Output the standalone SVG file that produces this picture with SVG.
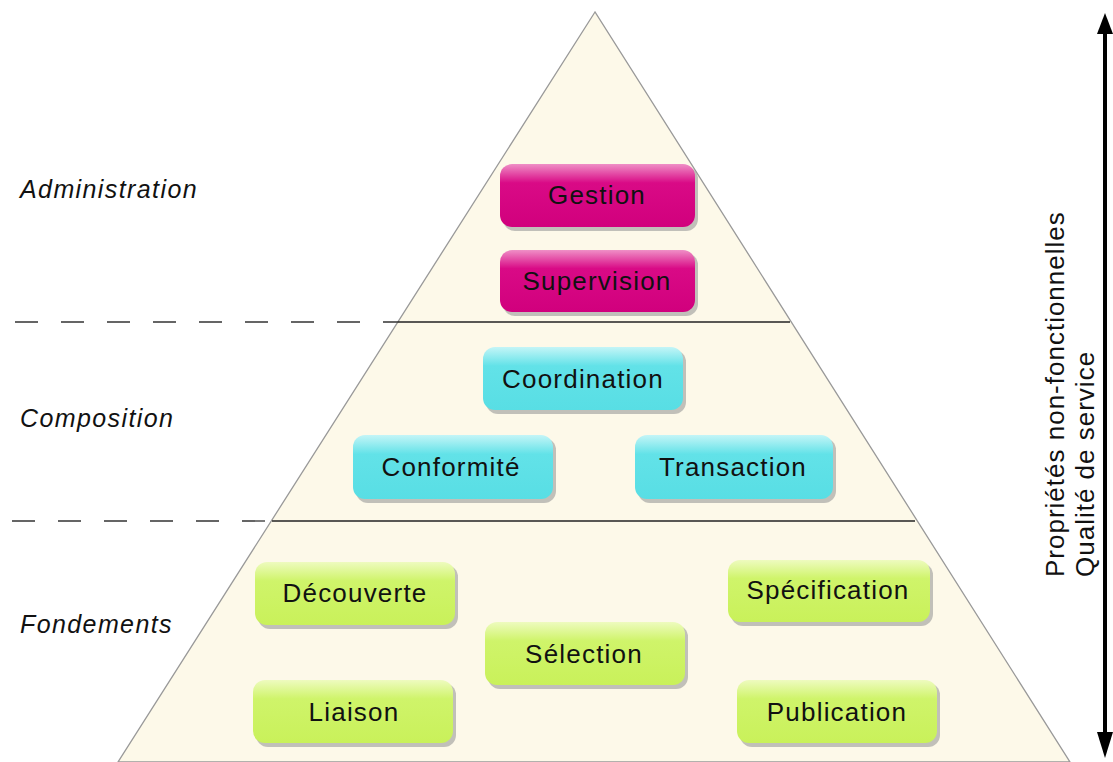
<svg xmlns="http://www.w3.org/2000/svg" width="1113" height="762" viewBox="0 0 1113 762">
<style>
.lbl{font-family:"Liberation Sans",Arial,sans-serif;font-size:26px;letter-spacing:1.2px;fill:#111;text-anchor:middle}
.lay{font-family:"Liberation Sans",Arial,sans-serif;font-size:25px;letter-spacing:1.4px;font-style:italic;fill:#111}
.side{font-family:"Liberation Sans",Arial,sans-serif;font-size:26px;letter-spacing:1px;fill:#111}
.shadow{fill:#999;opacity:0.6}
.dash{stroke:#333;stroke-width:1.3;stroke-dasharray:23 23;fill:none}
.sep{stroke:#222;stroke-width:1.3}
</style>
<defs>
<linearGradient id="gm" x1="0" y1="0" x2="0" y2="1">
<stop offset="0" stop-color="#ef8fc6"/><stop offset="0.3" stop-color="#d90a86"/><stop offset="1" stop-color="#d1007d"/>
</linearGradient>
<linearGradient id="gc" x1="0" y1="0" x2="0" y2="1">
<stop offset="0" stop-color="#c4f5f7"/><stop offset="0.3" stop-color="#62e2e8"/><stop offset="1" stop-color="#58dee4"/>
</linearGradient>
<linearGradient id="gg" x1="0" y1="0" x2="0" y2="1">
<stop offset="0" stop-color="#eefbbf"/><stop offset="0.3" stop-color="#cff46a"/><stop offset="1" stop-color="#c9f15a"/>
</linearGradient>
</defs>
<rect width="1113" height="762" fill="#fff"/>
<g id="pyramid">
<polygon points="595,12 118,762 1070,762" fill="#fdf9e9" stroke="#999" stroke-width="1.3"/>
</g>
<g id="connectors">
<line class="dash" x1="15" y1="322" x2="398" y2="322"/>
<line class="sep" x1="398" y1="322" x2="790" y2="322"/>
<line class="dash" x1="12" y1="521" x2="272" y2="521"/>
<line class="sep" x1="272" y1="521" x2="915" y2="521"/>
<line x1="1105" y1="30" x2="1105" y2="736" stroke="#000" stroke-width="4"/>
<polygon points="1105,13 1113,34 1097,34" fill="#000"/>
<polygon points="1105,758 1113,732 1097,732" fill="#000"/>
</g>
<g id="layer-labels">
<text class="lay" x="20" y="198">Administration</text>
<text class="lay" x="20" y="427">Composition</text>
<text class="lay" x="20" y="633">Fondements</text>
</g>
<g id="axis-label">
<text class="side" transform="translate(1064,577) rotate(-90)">Propriétés non-fonctionnelles</text>
<text class="side" transform="translate(1094,577) rotate(-90)">Qualité de service</text>
</g>
<g id="gestion">
<rect class="shadow" x="503" y="167" width="195" height="64" rx="12"/>
<rect x="500" y="164" width="195" height="63" rx="12" fill="url(#gm)"/>
<text class="lbl" x="597" y="204">Gestion</text>
</g>
<g id="supervision">
<rect class="shadow" x="503" y="253" width="195" height="63" rx="12"/>
<rect x="500" y="250" width="195" height="62" rx="12" fill="url(#gm)"/>
<text class="lbl" x="597" y="290">Supervision</text>
</g>
<g id="coordination">
<rect class="shadow" x="486" y="350" width="200" height="64" rx="12"/>
<rect x="483" y="347" width="200" height="63" rx="12" fill="url(#gc)"/>
<text class="lbl" x="583" y="388">Coordination</text>
</g>
<g id="conformite">
<rect class="shadow" x="356" y="438" width="200" height="65" rx="12"/>
<rect x="353" y="435" width="200" height="64" rx="12" fill="url(#gc)"/>
<text class="lbl" x="451" y="476">Conformité</text>
</g>
<g id="transaction">
<rect class="shadow" x="638" y="438" width="198" height="65" rx="12"/>
<rect x="635" y="435" width="198" height="64" rx="12" fill="url(#gc)"/>
<text class="lbl" x="733" y="476">Transaction</text>
</g>
<g id="decouverte">
<rect class="shadow" x="258" y="565" width="200" height="64" rx="12"/>
<rect x="255" y="562" width="200" height="63" rx="12" fill="url(#gg)"/>
<text class="lbl" x="355" y="602">Découverte</text>
</g>
<g id="specification">
<rect class="shadow" x="731" y="563" width="202" height="63" rx="12"/>
<rect x="728" y="560" width="202" height="62" rx="12" fill="url(#gg)"/>
<text class="lbl" x="828" y="599">Spécification</text>
</g>
<g id="selection">
<rect class="shadow" x="488" y="625" width="200" height="64" rx="12"/>
<rect x="485" y="622" width="200" height="63" rx="12" fill="url(#gg)"/>
<text class="lbl" x="584" y="663">Sélection</text>
</g>
<g id="liaison">
<rect class="shadow" x="256" y="683" width="200" height="64" rx="12"/>
<rect x="253" y="680" width="200" height="63" rx="12" fill="url(#gg)"/>
<text class="lbl" x="354" y="721">Liaison</text>
</g>
<g id="publication">
<rect class="shadow" x="740" y="683" width="200" height="64" rx="12"/>
<rect x="737" y="680" width="200" height="63" rx="12" fill="url(#gg)"/>
<text class="lbl" x="837" y="721">Publication</text>
</g>
</svg>
